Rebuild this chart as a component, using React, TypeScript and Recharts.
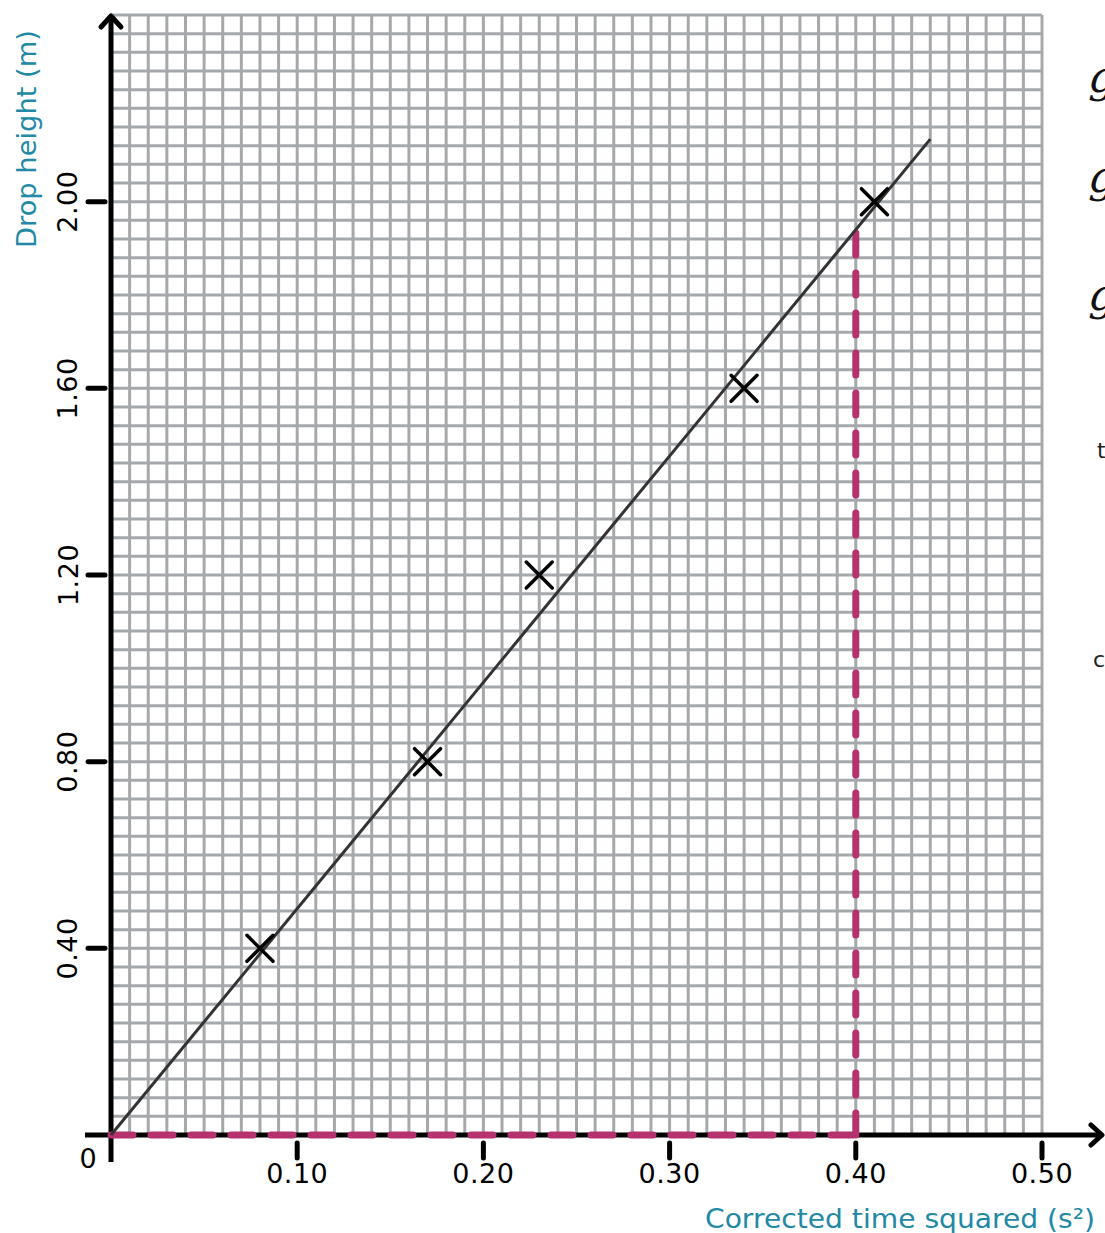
import React from 'react';
import {
  ScatterChart,
  Scatter,
  XAxis,
  YAxis,
  CartesianGrid,
  ReferenceLine,
} from 'recharts';

// datos medidos
const timeSquared = [0.08, 0.17, 0.23, 0.34, 0.41];
const dropHeight = [0.4, 0.8, 1.2, 1.6, 2.0];

const xLabels = [0.1, 0.2, 0.3, 0.4, 0.5];
const yLabels = [0.4, 0.8, 1.2, 1.6, 2.0];

// recta de ajuste (pasa por el origen)
const fitSlope = 4.85;
const fitEndX = 0.44;
const readX = 0.4;

const points = timeSquared.map((x, i) => ({ x, y: dropHeight[i] }));
const fitLine = [
  { x: 0, y: 0 },
  { x: fitEndX, y: fitSlope * fitEndX },
];

// papel milimetrado: 0.01 en x, 0.04 en y
const gridX = Array.from({ length: 51 }, (_, i) => +(i * 0.01).toFixed(2));
const gridY = Array.from({ length: 61 }, (_, i) => +(i * 0.04).toFixed(2));

const isLabel = (v: number, list: number[]) => list.some((l) => Math.abs(l - v) < 1e-6);

const PINK = '#b5326e';
const TEAL = '#2188a5';
const GRID = '#a6a9ac';
const tickFont = '"DejaVu Sans", sans-serif';
const handFont = '"Comic Sans MS", "DejaVu Sans", sans-serif';

const Cross = (props: any) => {
  const { cx, cy } = props;
  const s = 13;
  return (
    <path
      d={`M${cx - s},${cy - s}L${cx + s},${cy + s}M${cx - s},${cy + s}L${cx + s},${cy - s}`}
      stroke="#000"
      strokeWidth={3.5}
      strokeLinecap="round"
      fill="none"
    />
  );
};

const XTick = (props: any) => {
  const { x, y, payload } = props;
  if (!isLabel(payload.value, xLabels)) return <g />;
  return (
    <g>
      <line x1={x} y1={y} x2={x} y2={y + 15} stroke="#000" strokeWidth={5} strokeLinecap="round" />
      <text x={x} y={y + 40} textAnchor="middle" fontSize={27} fontFamily={tickFont} fill="#000" letterSpacing={0.5}>
        {payload.value.toFixed(2)}
      </text>
    </g>
  );
};

const YTick = (props: any) => {
  const { x, y, payload } = props;
  if (!isLabel(payload.value, yLabels)) return <g />;
  return (
    <g>
      <line x1={x - 15} y1={y} x2={x + 2} y2={y} stroke="#000" strokeWidth={5} strokeLinecap="round" />
      <text
        x={x - 35}
        y={y}
        textAnchor="middle"
        dominantBaseline="central"
        fontSize={27}
        fontFamily={tickFont}
        fill="#000"
        letterSpacing={0.5}
        transform={`rotate(-90 ${x - 35} ${y})`}
      >
        {payload.value.toFixed(2)}
      </text>
    </g>
  );
};

// eje vertical con flecha
const YAxisArrow = (props: any) => {
  const { x1, y1, y2 } = props;
  const top = Math.min(y1, y2);
  const bottom = Math.max(y1, y2);
  return (
    <g>
      <line x1={x1} y1={bottom + 27} x2={x1} y2={top + 1} stroke="#000" strokeWidth={5} />
      <path
        d={`M${x1 - 10},${top + 12}L${x1},${top + 1}L${x1 + 10},${top + 12}`}
        stroke="#000"
        strokeWidth={5}
        strokeLinecap="round"
        strokeLinejoin="round"
        fill="none"
      />
    </g>
  );
};

// eje horizontal con flecha
const XAxisArrow = (props: any) => {
  const { x1, x2, y1 } = props;
  const left = Math.min(x1, x2);
  const right = Math.max(x1, x2) + 60;
  return (
    <g>
      <line x1={left - 26} y1={y1} x2={right} y2={y1} stroke="#000" strokeWidth={5} />
      <path
        d={`M${right - 11},${y1 - 10}L${right},${y1}L${right - 11},${y1 + 10}`}
        stroke="#000"
        strokeWidth={5}
        strokeLinecap="round"
        strokeLinejoin="round"
        fill="none"
      />
      <text x={left - 23} y={y1 + 33} textAnchor="middle" fontSize={27} fontFamily={tickFont} fill="#000">
        0
      </text>
    </g>
  );
};

export default function App() {
  return (
    <div style={{ position: 'absolute', left: 0, top: 0, width: 1105, height: 1233, background: '#fff', overflow: 'hidden' }}>
      <ScatterChart
        width={1105}
        height={1233}
        margin={{ top: 15, right: 63, left: 0, bottom: 0 }}
      >
        <CartesianGrid stroke={GRID} strokeWidth={3} strokeOpacity={1} />
        <XAxis
          dataKey="x"
          type="number"
          domain={[0, 0.5]}
          ticks={gridX}
          height={98}
          axisLine={false}
          tickLine={false}
          tick={<XTick />}
          interval={0}
        />
        <YAxis
          dataKey="y"
          type="number"
          domain={[0, 2.4]}
          ticks={gridY}
          width={111}
          axisLine={false}
          tickLine={false}
          tick={<YTick />}
          interval={0}
        />
        <ReferenceLine x={0} ifOverflow="visible" shape={<YAxisArrow />} />
        <ReferenceLine y={0} ifOverflow="visible" shape={<XAxisArrow />} />
        <ReferenceLine
          segment={[{ x: 0, y: 0 }, { x: readX, y: 0 }]}
          stroke={PINK}
          strokeWidth={7}
          strokeDasharray="22 18"
          strokeLinecap="round"
          ifOverflow="visible"
        />
        <ReferenceLine
          segment={[{ x: readX, y: 0 }, { x: readX, y: fitSlope * readX }]}
          stroke={PINK}
          strokeWidth={7}
          strokeDasharray="22 18"
          strokeLinecap="round"
          ifOverflow="visible"
        />
        <Scatter
          data={fitLine}
          line={{ stroke: '#333', strokeWidth: 3 }}
          shape={() => null}
          isAnimationActive={false}
        />
        <Scatter data={points} shape={<Cross />} isAnimationActive={false} />
      </ScatterChart>

      <svg width={1105} height={1233} style={{ position: 'absolute', left: 0, top: 0, pointerEvents: 'none' }}>
        <text
          x={27}
          y={139}
          textAnchor="middle"
          dominantBaseline="central"
          fontSize={26}
          fontFamily={handFont}
          fill={TEAL}
          textLength={218}
          lengthAdjust="spacingAndGlyphs"
          transform="rotate(-90 27 139)"
        >
          Drop height (m)
        </text>
        <text
          x={705}
          y={1228}
          fontSize={27}
          fontFamily={handFont}
          fill={TEAL}
          textLength={390}
          lengthAdjust="spacingAndGlyphs"
        >
          Corrected time squared (s²)
        </text>
        <g fontFamily='"DejaVu Serif", serif' fontStyle="italic" fontSize={44} fill="#111">
          <text x={1088} y={92}>g</text>
          <text x={1088} y={192}>g</text>
          <text x={1088} y={310}>g</text>
        </g>
        <g fontFamily='"DejaVu Sans", sans-serif' fontSize={22} fill="#222">
          <text x={1097} y={458}>t</text>
          <text x={1093} y={667}>c</text>
        </g>
      </svg>
    </div>
  );
}
